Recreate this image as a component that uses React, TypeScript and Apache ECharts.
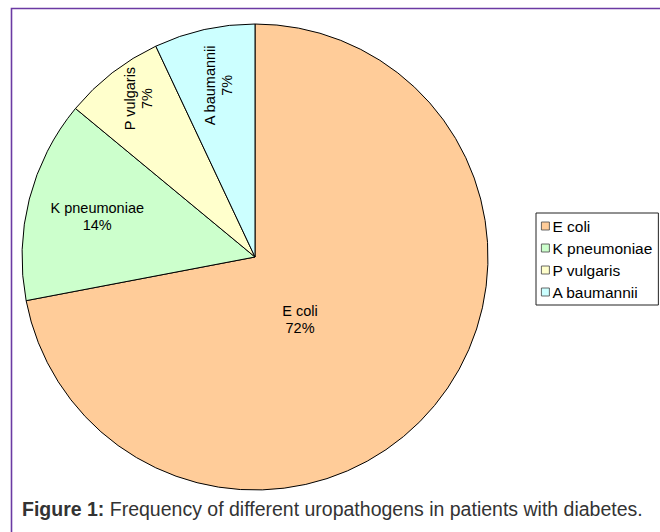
import React, { useEffect, useRef } from "react";
import * as echarts from "echarts";

const categories = ["E coli", "K pneumoniae", "P vulgaris", "A baumannii"];
const percents = [72, 14, 7, 7];
const colors = ["#FFCC99", "#CCFFCC", "#FFFFCC", "#CCFFFF"];
const labelRotate = [0, 0, 90, 90];
// label shifts in screen pixels (x, y)
const labelShift = [
  [-47, -14],
  [-42, -11],
  [-43, -64],
  [-10, -55],
];
const captionBold = "Figure 1:";
const captionText = " Frequency of different uropathogens in patients with diabetes.";

const FONT = "Arial, 'Liberation Sans', Helvetica, sans-serif";

export default function App() {
  const ref = useRef<HTMLDivElement>(null);
  useEffect(() => {
    if (!ref.current) return;
    const chart = echarts.init(ref.current, null, { renderer: "svg" });
    const data = categories.map((name, i) => ({
      name,
      value: percents[i],
      itemStyle: { color: colors[i] },
      label: { rotate: labelRotate[i] },
    }));
    chart.setOption({
      animation: false,
      backgroundColor: "#ffffff",
      textStyle: { fontFamily: FONT },
      legend: {
        orient: "vertical",
        left: 536,
        top: 213,
        data: categories,
        icon: "rect",
        itemWidth: 8,
        itemHeight: 8,
        itemGap: 6,
        padding: [5, 6, 5, 5],
        borderColor: "#222",
        borderWidth: 1,
        borderRadius: 0,
        itemStyle: { borderColor: "#444", borderWidth: 0.8 },
        textStyle: { fontSize: 15.5, color: "#000", fontFamily: FONT, padding: [0, 0, 0, -2] },
        selectedMode: false,
      },
      graphic: [
        {
          type: "polyline",
          shape: { points: [[11.5, 540], [11.5, 8.5], [670, 8.5]] },
          style: { stroke: "#6b3aa3", lineWidth: 1.6, fill: null },
          silent: true,
        },
        {
          type: "text",
          left: 22,
          top: 499,
          style: {
            text: `{b|${captionBold}}${captionText}`,
            rich: {
              b: { fontWeight: "bold", fontSize: 19.5, fontFamily: FONT, fill: "#333" },
            },
            fontSize: 19.5,
            fontFamily: FONT,
            fill: "#333",
          },
        },
      ],
      series: [
        {
          type: "pie",
          center: [255, 257],
          radius: [0, 233],
          startAngle: 90,
          clockwise: true,
          avoidLabelOverlap: false,
          itemStyle: { borderColor: "#000", borderWidth: 1 },
          label: {
            show: true,
            position: "inside",
            formatter: "{b}\n{d}%",
            color: "#000",
            fontSize: 14.5,
            lineHeight: 17,
            fontFamily: FONT,
          },
          labelLine: { show: false },
          labelLayout: (p: any) => {
            const i = p.dataIndex;
            const [sx, sy] = labelShift[i];
            if (labelRotate[i] === 90) {
              // label offsets are applied in the rotated frame
              return { dx: -sy, dy: sx };
            }
            return { dx: sx, dy: sy };
          },
          emphasis: { disabled: true },
          data,
        },
      ],
    });
    return () => chart.dispose();
  }, []);
  return (
    <div
      ref={ref}
      style={{ position: "fixed", left: 0, top: 0, width: 660, height: 532 }}
    />
  );
}
